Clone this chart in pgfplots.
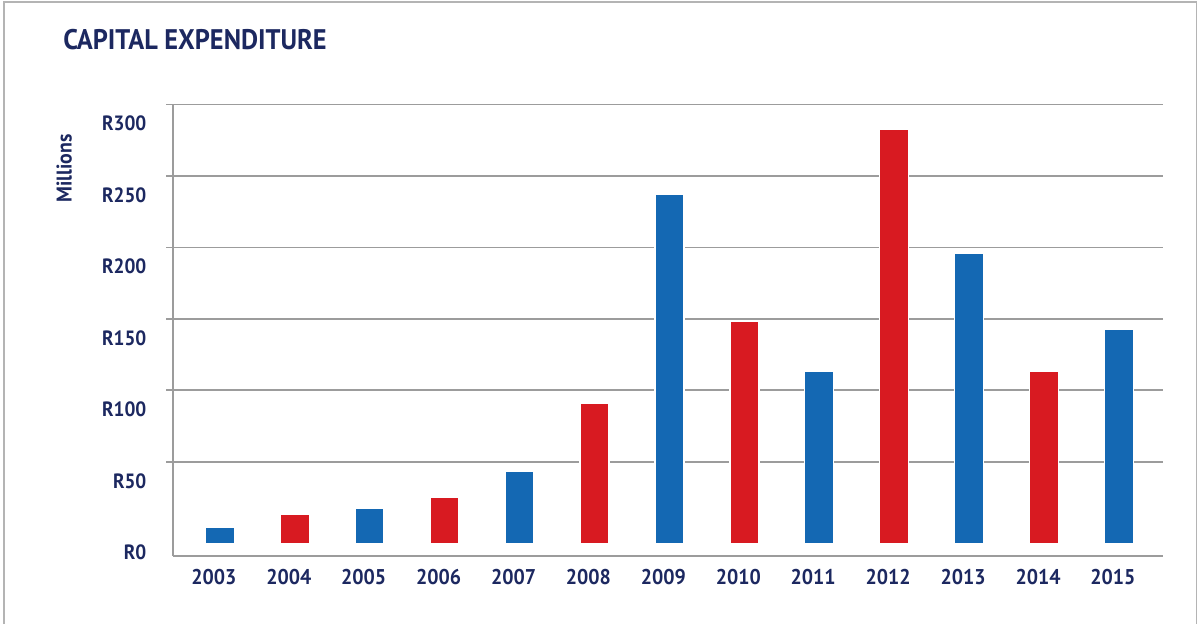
\documentclass[border=0pt]{standalone}
\usepackage{pgfplots}
\pgfplotsset{compat=1.18}
\usepackage{fontspec}
\setmainfont[FakeStretch=0.93]{PT Sans}

\definecolor{navy}{HTML}{1C2860}
\definecolor{capblue}{HTML}{1468B3}
\definecolor{capred}{HTML}{D81A21}
\definecolor{gridgray}{HTML}{9C9C9C}
\definecolor{framegray}{HTML}{B4B4B4}

\newdimen\pxu
\pxu=0.6pt

\begin{document}
\begin{tikzpicture}
\useasboundingbox (0,0) rectangle (1198\pxu,-624\pxu);
% outer frame
\draw[framegray, line width=1.6\pxu] (4\pxu,-624\pxu) -- (4\pxu,-1.8\pxu) -- (1196.6\pxu,-1.8\pxu) -- (1196.6\pxu,-624\pxu);

\node[anchor=base west, inner sep=0pt, text=navy, font=\bfseries\fontsize{17}{20}\selectfont]
  at (63\pxu,-49.3\pxu) {CAPITAL EXPENDITURE};

\node[anchor=base, rotate=90, inner sep=0pt, text=navy, font=\bfseries\fontsize{12.8}{15}\selectfont]
  at (71.7\pxu,-168.5\pxu) {Millions};

\begin{axis}[
  at={(172.7\pxu,-556\pxu)}, anchor=south west,
  width=990.3\pxu, height=451.7\pxu, scale only axis,
  xmin=-0.629, xmax=12.588, ymin=-8.9, ymax=307,
  axis lines=left,
  axis line style={-, draw=gridgray, line width=1.6\pxu},
  xtick={0,...,12},
  xticklabels={2003,2004,2005,2006,2007,2008,2009,2010,2011,2012,2013,2014,2015},
  ytick={0,50,100,150,200,250,300},
  yticklabels={R0,R50,R100,R150,R200,R250,R300},
  major tick length=0pt,
  tick style={draw=none},
  xticklabel style={anchor=north, inner sep=0pt, xshift=-6\pxu, yshift=-13.3\pxu, text=navy,
    font=\bfseries\fontsize{12.8}{15}\selectfont},
  yticklabel style={anchor=east, inner sep=0pt, xshift=-26\pxu, yshift=-9.2\pxu, text=navy,
    font=\bfseries\fontsize{12.4}{15}\selectfont},
  % horizontal rules with their short outside ticks
  extra y ticks={57,107,157,207,257,307},
  extra y tick labels={},
  extra y tick style={grid=major,
    major grid style={draw=gridgray, line width=1.6\pxu},
    tick style={draw=gridgray, line width=1.6\pxu},
    major tick length=6.4\pxu, tick align=outside},
  ybar, bar width=29\pxu,
  clip=false,
]
% odd years (blue)
\addplot[ybar, bar shift=0pt, fill=capblue, draw=white, line width=1.4\pxu] coordinates {
  (0,10.9) (2,24.7) (4,50.6) (6,244.3) (8,120.3) (10,202.5) (12,149.7)
};
% even years (red)
\addplot[ybar, bar shift=0pt, fill=capred, draw=white, line width=1.4\pxu] coordinates {
  (1,20.3) (3,32.2) (5,97.6) (7,155.5) (9,289.7) (11,120.0)
};
\end{axis}
\end{tikzpicture}
\end{document}
